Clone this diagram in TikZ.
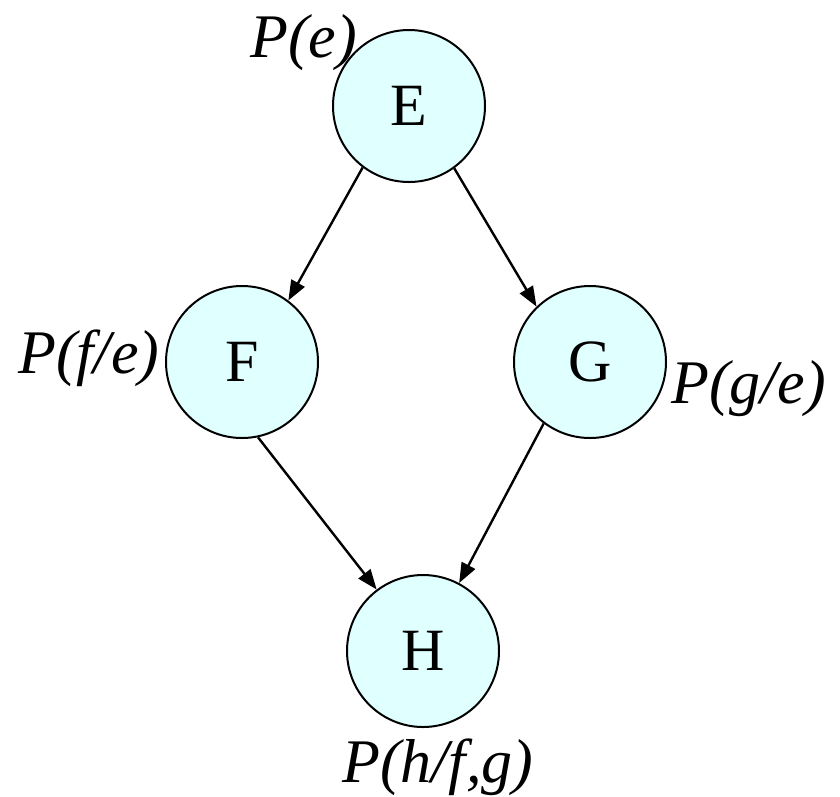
\documentclass[tikz,border=0pt]{standalone}
\usepackage{fontspec}
\setmainfont{Liberation Serif}
\usetikzlibrary{arrows.meta}
\definecolor{nodefill}{HTML}{E0FFFF}
\tikzset{
  var/.style={circle, draw=black, line width=2pt, fill=nodefill, minimum size=152pt, inner sep=0pt, font=\fontsize{60}{72}\selectfont},
  lab/.style={inner sep=0pt, anchor=base west, font=\fontsize{62}{74}\selectfont\itshape},
  edge/.style={line width=2.4pt, -{Triangle[length=20pt,width=15pt]}}
}
\begin{document}
\begin{tikzpicture}[x=1pt,y=-1pt]
\useasboundingbox (0,0) rectangle (840,796);
\node[var] (E) at (409,106) {E};
\node[var] (F) at (242,362) {F};
\node[var] (G) at (590,362) {G};
\node[var] (H) at (423,651) {H};
\node[lab] (pe) at (250,57) {P(e)};
\node[lab] (pf) at (18,373) {P(f/e)};
\node[lab] (pg) at (671,403) {P(g/e)};
\node[lab] (ph) at (342,782) {P(h/f,g)};
\draw[edge] (E.233) -- (F.53);
\draw[edge] (E.306) -- (G.134);
\draw[edge] (F.282) -- (H.127);
\draw[edge] (G.233) -- (H.62);
\end{tikzpicture}
\end{document}
